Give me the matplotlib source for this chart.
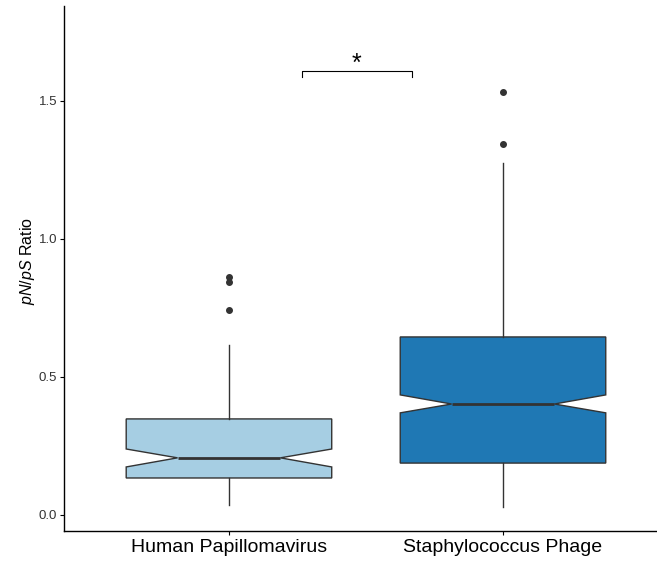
import matplotlib.pyplot as plt

plt.rcParams['font.family'] = ['Liberation Sans', 'DejaVu Sans']
plt.rcParams['mathtext.fontset'] = 'custom'
plt.rcParams['mathtext.it'] = 'Liberation Sans:italic'
plt.rcParams['mathtext.rm'] = 'Liberation Sans'

# values
groups = ['Human Papillomavirus', 'Staphylococcus Phage']
q1 = [0.134, 0.188]
q3 = [0.348, 0.645]
med = [0.207, 0.402]
ci_lo = [0.174, 0.370]
ci_hi = [0.239, 0.435]
whis_lo = [0.036, 0.029]
whis_hi = [0.616, 1.275]
fliers = [[0.862, 0.844, 0.743], [1.533, 1.344]]
colors = ['#A6CEE3', '#1F78B4']
sig_label = '*'

stats = []
for i in range(len(groups)):
    stats.append({'med': med[i], 'q1': q1[i], 'q3': q3[i],
                  'cilo': ci_lo[i], 'cihi': ci_hi[i],
                  'whislo': whis_lo[i], 'whishi': whis_hi[i],
                  'fliers': fliers[i], 'label': groups[i]})

fig = plt.figure(figsize=(6.57, 5.62), dpi=100)
ax = fig.add_axes([0.0974, 0.0552, 0.9026, 0.9341])

edge = '#333333'
bp = ax.bxp(stats, positions=[0, 1], widths=0.75, shownotches=True,
            patch_artist=True, showcaps=False,
            boxprops=dict(edgecolor=edge, linewidth=1.0),
            medianprops=dict(color=edge, linewidth=2.0),
            whiskerprops=dict(color=edge, linewidth=1.0),
            flierprops=dict(marker='o', markerfacecolor=edge,
                            markeredgecolor=edge, markersize=4))
for patch, c in zip(bp['boxes'], colors):
    patch.set_facecolor(c)

# significance bracket
ax.plot([0.266, 0.266, 0.668, 0.668], [1.587, 1.609, 1.609, 1.587],
        color='black', linewidth=0.8)
ax.text(0.467, 1.635, sig_label, ha='center', va='center', fontsize=18)

ax.set_xlim(-0.602, 1.562)
ax.set_ylim(-0.058, 1.844)
ax.set_yticks([0.0, 0.5, 1.0, 1.5])
ax.set_yticklabels(['0.0', '0.5', '1.0', '1.5'])
ax.set_xticks([0, 1])
ax.set_xticklabels(groups)
ax.tick_params(axis='y', labelsize=9.5, labelcolor='#333333', length=3, width=0.8, pad=2)
ax.tick_params(axis='x', labelsize=14, labelcolor='black', length=3, width=0.8, pad=3)

ax.set_ylabel('$\\mathit{pN/pS}$ Ratio', fontsize=11.5, labelpad=6)
ax.yaxis.set_label_coords(-0.045, 0.515)

for s in ['top', 'right']:
    ax.spines[s].set_visible(False)
for s in ['left', 'bottom']:
    ax.spines[s].set_linewidth(1.0)

fig.savefig('out.png', dpi=100)
